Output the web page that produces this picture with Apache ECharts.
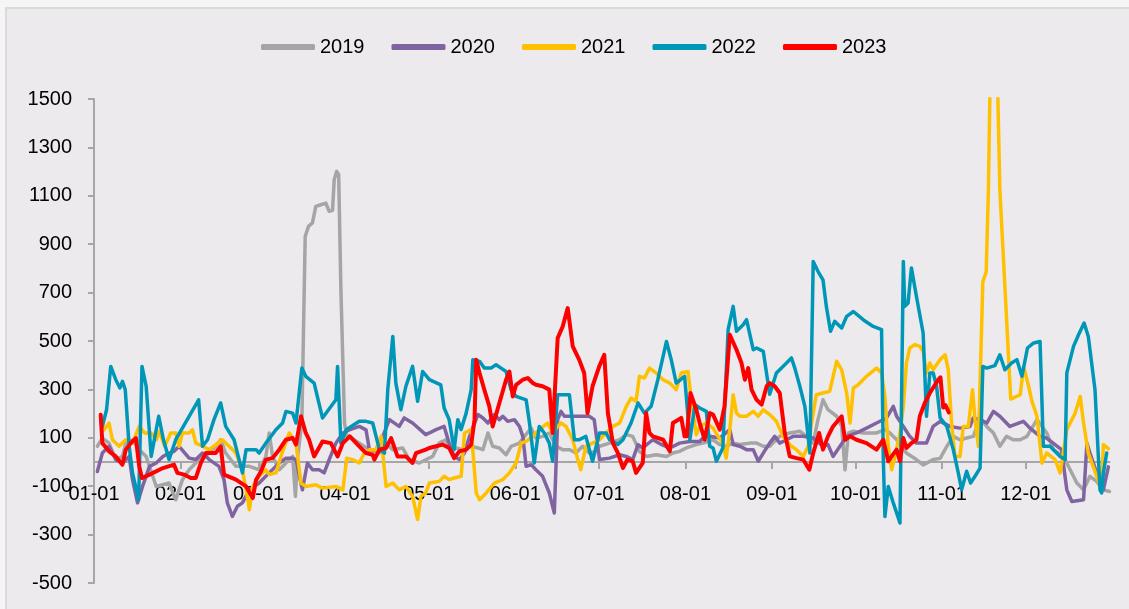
<!DOCTYPE html>
<html>
<head>
<meta charset="utf-8">
<script src="https://cdn.jsdelivr.net/npm/echarts@6/dist/echarts.min.js"></script>
<style>
html,body{margin:0;padding:0;background:#F5F5F5;}
#chart{width:1129px;height:609px;}
</style>
</head>
<body>
<div id="chart"></div>
<script>
// x = day of year (0 = 01-01), y = value
const monthStartDays = [0, 31, 59, 90, 120, 151, 181, 212, 243, 273, 304, 334];
const monthLabels = ['01-01','02-01','03-01','04-01','05-01','06-01','07-01','08-01','09-01','10-01','11-01','12-01'];
const yTickLabels = ['-500','-300','-100','100','300','500','700','900','1100','1300','1500'];
const seriesNames = ['2019','2020','2021','2022','2023'];
const seriesColors = ['#A5A5A5','#8064A2','#FFC000','#0096B8','#FF0000'];

const s2019 = [[1.2,65],[3.0,99],[5.4,78],[7.8,10],[10.2,23],[11.4,78],[13.8,92],[16.2,51],[18.7,23],[22.3,-101],[26.9,-87],[29.3,-156],[31.7,-73],[34.1,-32],[37.7,10],[41.3,37],[43.6,65],[45.4,92],[47.2,37],[50.9,-18],[55.7,-18],
[59.2,-32],[61.6,23],[62.8,120],[64.0,23],[66.4,-32],[68.8,-4],[70.0,10],[71.2,23],[72.2,-142],[73.0,23],[74.5,161],[75.7,932],[76.9,974],[78.3,988],[79.5,1056],[81.3,1063],[83.1,1070],[84.3,1036],[85.5,1040],[86.1,1167],[87.0,1201],[87.7,1187],[88.5,712],[89.8,161],[90.6,106],[91.5,106],[95.1,78],[98.7,51],[102.3,37],[104.7,78],[107.1,51],[110.6,58],[113.0,10],[116.6,-4],[121.4,23],
[123.7,78],[126.1,92],[127.3,58],[129.7,58],[132.1,51],[135.2,65],[137.6,58],[139.4,51],[141.2,120],[142.9,65],[145.3,58],[147.7,30],[149.5,65],[152.5,78],[154.3,106],[156.7,140],[158.4,99],[160.8,106],[163.2,120],[165.6,65],[168.0,51],[170.4,51],[172.8,37],[175.1,65],[177.5,37],[179.9,44],
[181.2,65],[184.8,78],[188.4,92],[190.8,113],[193.1,106],[195.5,44],[197.9,23],[201.5,30],[205.2,23],[207.5,37],[209.9,44],[212.3,58],[215.9,72],[218.3,78],[221.9,92],[224.3,72],[226.6,65],[229.1,78],[231.5,72],[235.1,78],[237.5,78],[239.9,65],
[242.2,65],[245.8,106],[249.4,120],[253.0,127],[255.4,106],[257.8,78],[259.5,175],[261.3,257],[263.1,216],[266.2,189],[268.0,147],[269.2,-32],[270.4,120],[272.2,127],[275.7,120],[280.5,120],[283.5,134],[285.3,120],[287.7,92],[291.2,37],[294.8,10],[297.2,-12],[300.8,10],
[303.3,15],[305.7,65],[308.0,106],[310.4,92],[312.8,99],[315.2,106],[317.6,182],[320.0,147],[322.4,120],[324.7,65],[327.1,106],[329.5,92],[332.0,92],[334.4,106],[338.0,175],[339.8,147],[341.5,120],[343.9,51],[347.5,23],[349.9,-32],[352.3,-87],[354.7,-115],[357.0,-59],[359.4,-80],[361.8,-115],[364.0,-122]];

const s2020 = [[1.2,-39],[3.0,37],[5.4,65],[7.8,10],[10.2,-4],[12.6,23],[13.8,-73],[15.6,-169],[17.4,-101],[19.9,-18],[22.3,-4],[24.7,23],[26.9,37],[28.7,44],[30.5,65],[34.1,16],[36.5,10],[38.9,37],[41.3,10],[44.8,-18],[46.6,-73],[47.8,-169],[49.6,-225],[51.4,-183],[53.2,-169],[55.7,-114],
[59.2,-87],[62.8,-45],[66.4,-4],[68.8,16],[71.2,16],[72.4,10],[74.7,-115],[76.5,-4],[78.3,-32],[80.7,-32],[82.5,-45],[84.3,10],[86.7,78],[89.2,120],[91.5,133],[95.1,147],[97.5,133],[98.7,51],[101.1,51],[103.5,106],[105.9,175],[109.4,147],[111.2,182],[114.2,161],[118.9,113],
[120.2,120],[122.6,134],[125.5,147],[127.3,78],[129.1,23],[131.0,10],[132.8,37],[134.6,106],[137.6,196],[139.4,182],[141.2,161],[143.5,196],[145.3,175],[146.5,189],[148.3,168],[150.7,175],[152.5,147],[153.7,106],[154.9,-18],[156.7,-11],[158.4,-32],[160.8,-59],[163.2,-128],[165.0,-211],[166.2,175],[167.4,209],[168.6,189],[170.4,189],[173.9,189],[177.5,189],[179.3,175],
[181.2,10],[184.8,16],[188.4,30],[190.8,23],[193.1,10],[195.0,72],[196.7,58],[200.3,92],[203.4,72],[206.4,58],[209.9,78],[213.6,85],[217.1,85],[218.9,106],[220.7,106],[224.3,99],[227.9,134],[229.1,72],[231.5,65],[233.9,51],[236.3,51],[238.1,3],[239.9,37],
[242.2,78],[244.0,106],[245.8,78],[248.2,92],[250.6,106],[254.2,106],[257.8,99],[261.3,65],[263.1,72],[264.9,23],[267.4,65],[269.8,106],[273.3,120],[276.9,140],[280.5,161],[284.1,182],[286.5,230],[287.7,189],[290.1,147],[292.4,106],[294.8,78],[298.4,78],[300.8,147],
[303.3,168],[306.8,147],[310.4,140],[314.0,147],[315.2,182],[317.6,175],[320.0,161],[322.4,209],[324.7,189],[328.3,147],[333.1,168],[335.5,140],[339.1,106],[341.4,99],[343.8,78],[346.8,51],[348.7,-115],[350.5,-163],[354.7,-156],[355.9,78],[357.0,37],[359.4,-45],[361.8,-115],[363.6,-20]];

const s2021 = [[3.6,133],[5.4,161],[6.6,92],[9.0,65],[11.4,92],[13.8,78],[16.2,147],[18.1,120],[20.5,120],[22.3,92],[23.5,127],[25.3,65],[27.5,120],[29.3,120],[30.5,65],[31.7,120],[34.1,120],[35.3,133],[36.5,78],[38.9,65],[41.3,51],[46.0,92],[48.4,65],[50.9,37],[53.2,-32],[54.5,-114],[55.7,-197],[56.9,-101],
[59.2,-59],[61.6,-32],[62.8,-52],[65.2,-45],[67.0,23],[70.0,120],[72.4,78],[74.2,-87],[75.9,-101],[79.5,-94],[81.9,-108],[86.7,-101],[89.2,-115],[90.6,16],[92.7,10],[95.1,-4],[96.9,37],[98.7,51],[101.1,51],[102.9,106],[104.7,-101],[107.1,-87],[109.4,-115],[111.8,-101],[114.2,-142],[116.0,-238],[117.2,-142],[118.9,-128],
[120.2,-87],[123.7,-80],[125.5,-59],[127.3,-73],[129.1,-66],[131.6,-59],[132.8,120],[135.2,134],[137.0,-128],[138.2,-156],[140.6,-128],[143.5,-87],[146.5,-73],[148.9,-45],[151.3,-4],[153.1,78],[154.9,85],[157.3,106],[159.6,134],[162.6,161],[164.4,120],[166.2,147],[167.4,161],[169.2,147],[171.6,92],[173.4,10],[174.5,-32],[176.3,65],[178.7,78],
[181.2,92],[183.6,120],[186.0,147],[188.4,161],[190.8,230],[192.5,264],[194.3,251],[195.5,354],[197.3,347],[199.1,388],[201.5,368],[204.0,340],[206.4,326],[208.7,299],[210.5,368],[212.9,374],[214.1,257],[215.9,113],[217.1,147],[219.5,161],[221.9,140],[223.7,106],[225.4,78],[226.6,16],[227.9,134],[229.1,278],[230.3,202],[231.5,189],[233.9,189],[236.3,209],[238.1,189],[239.9,216],
[242.2,196],[244.6,168],[247.0,106],[250.0,65],[251.8,51],[254.2,23],[256.0,65],[257.1,154],[258.9,278],[261.3,285],[263.7,292],[266.2,416],[268.0,381],[269.8,285],[271.0,161],[272.2,306],[273.9,319],[276.9,354],[280.5,388],[282.3,368],[283.5,271],[284.7,65],[285.9,-32],[287.1,23],[288.9,120],[290.1,230],[291.2,409],[292.4,471],[294.2,485],[296.0,478],[297.2,457],[298.4,368],[299.6,409],[300.8,381],[302.0,402],
[303.3,423],[305.1,443],[306.2,381],[307.4,161],[308.6,23],[310.4,23],[311.6,147],[313.4,147],[314.9,299],[315.8,175],[317.0,65],[318.6,745],[319.8,786],[320.6,1125],[322.3,2400],[324.7,1125],[328.6,260],[332.0,278],[333.2,395],[335.0,313],[336.2,251],[338.0,189],[339.8,-4],[341.5,37],[344.5,10],[346.3,-45],[348.7,133],[351.7,202],[353.5,271],[354.7,161],[356.4,37],[359.4,-59],[361.2,-115],[361.8,72],[363.6,55]];

const s2022 = [[3.0,147],[4.5,216],[6.0,395],[7.8,340],[9.3,306],[10.2,333],[11.2,299],[12.6,65],[13.8,-45],[16.0,-156],[17.2,395],[18.7,313],[20.5,23],[23.2,189],[24.9,92],[26.9,10],[29.3,92],[34.1,189],[37.5,257],[38.9,65],[40.7,92],[43.0,175],[45.4,244],[47.2,147],[50.2,92],[53.2,-45],[54.5,51],[58.1,51],
[59.2,37],[61.6,78],[65.2,133],[67.6,161],[68.8,209],[71.2,202],[72.4,161],[74.5,388],[75.9,354],[78.9,326],[81.9,182],[86.7,257],[87.3,395],[88.5,78],[90.4,133],[95.1,168],[97.5,168],[99.9,161],[102.3,51],[104.1,37],[105.3,299],[107.1,519],[108.2,326],[110.0,216],[111.8,313],[114.2,395],[116.0,251],[117.8,374],[120.2,340],
[124.3,319],[125.5,223],[127.3,175],[129.1,51],[130.4,175],[131.6,134],[133.4,202],[135.2,299],[135.8,423],[138.2,416],[139.9,388],[142.3,388],[144.1,402],[145.9,388],[147.7,374],[149.5,299],[151.3,271],[154.9,257],[156.1,161],[157.8,-4],[159.6,147],[161.4,120],[163.2,78],[164.4,3],[166.2,278],[170.4,278],[172.2,92],[173.9,92],[176.3,106],[178.7,3],
[181.2,120],[183.6,120],[184.8,92],[187.8,72],[189.6,92],[192.5,161],[195.0,244],[197.3,202],[199.7,230],[202.1,340],[205.2,498],[206.9,423],[208.7,326],[211.7,354],[213.6,92],[215.4,237],[217.1,223],[219.5,209],[220.7,65],[221.9,58],[223.1,3],[225.4,58],[227.3,547],[229.1,643],[230.3,540],[232.7,567],[233.9,588],[236.3,464],[237.5,471],[239.9,457],
[242.2,280],[244.6,368],[247.6,402],[250.0,430],[251.2,388],[253.0,313],[254.8,230],[256.6,37],[257.8,829],[259.5,788],[261.3,753],[262.5,643],[264.0,540],[265.5,581],[268.0,554],[269.8,602],[272.2,622],[275.7,588],[279.3,560],[282.3,547],[282.9,23],[283.5,-225],[284.7,-101],[286.5,-169],[288.9,-252],[290.1,829],[290.6,643],[291.8,657],[293.0,802],[294.8,684],[297.2,533],[298.4,189],[299.6,368],[300.8,368],[302.0,313],
[303.3,182],[305.7,147],[308.0,51],[309.8,-45],[311.0,-115],[312.8,-38],[314.2,-87],[315.8,-59],[317.6,-25],[318.6,395],[320.0,388],[322.9,398],[324.7,443],[326.5,381],[328.9,409],[330.8,423],[332.6,354],[334.6,471],[336.8,492],[339.1,498],[340.3,65],[342.7,65],[346.3,23],[348.1,10],[348.7,368],[351.1,478],[352.9,526],[354.9,574],[356.4,519],[358.8,299],[360.6,-115],[361.2,-128],[361.8,-45],[363.0,37]];

const s2023 = [[2.4,195],[3.0,78],[5.4,44],[7.8,23],[10.2,-11],[11.4,51],[13.2,78],[15.0,99],[16.2,-18],[17.2,-66],[19.9,-52],[24.7,-25],[28.7,-11],[29.9,-45],[32.3,-52],[34.7,-66],[36.5,-66],[38.3,-4],[40.1,37],[43.6,37],[45.4,65],[46.6,-52],[50.9,-73],[54.5,-101],[56.9,-149],[58.1,-73],
[59.8,-40],[61.6,10],[64.0,16],[66.4,51],[68.8,92],[71.2,99],[72.4,72],[74.2,189],[75.9,120],[77.1,92],[78.9,23],[81.9,85],[84.9,78],[87.3,23],[89.2,78],[91.7,106],[95.1,65],[97.5,37],[99.9,30],[100.5,10],[102.3,51],[104.7,58],[106.5,99],[108.8,23],[111.8,23],[114.2,-4],[115.4,37],[118.9,51],[120.2,58],
[122.6,65],[124.9,72],[127.3,58],[129.1,16],[131.0,44],[133.4,51],[135.2,72],[136.4,175],[137.0,423],[138.2,368],[139.9,299],[141.7,230],[142.9,147],[145.3,244],[147.7,340],[148.9,374],[150.1,271],[151.3,319],[153.7,340],[155.5,347],[157.3,326],[158.4,319],[160.8,313],[163.2,299],[164.4,120],[166.2,512],[168.0,560],[169.8,636],[171.6,478],[173.9,423],[175.7,368],[176.9,202],[178.7,313],[181.1,395],[182.9,443],
[184.2,202],[186.0,78],[187.8,37],[189.6,-25],[191.2,10],[193.1,3],[194.3,-45],[196.7,-4],[197.9,202],[199.1,120],[200.3,106],[204.0,92],[206.4,44],[207.5,161],[210.5,182],[211.7,106],[212.5,106],[213.8,285],[215.9,216],[217.1,161],[218.9,92],[220.7,202],[221.9,196],[224.3,134],[226.0,230],[227.9,526],[230.3,464],[232.1,409],[233.3,340],[234.5,388],[235.7,299],[237.5,257],[239.3,237],[241.1,313],
[242.2,326],[244.0,313],[245.8,285],[247.6,120],[249.4,23],[251.8,16],[254.2,10],[256.4,-32],[257.8,37],[259.9,120],[261.3,51],[263.1,106],[264.9,147],[268.0,189],[269.2,92],[271.0,106],[273.3,92],[276.9,78],[280.5,51],[282.9,92],[284.7,3],[285.9,23],[287.7,51],[288.9,3],[290.1,99],[291.2,58],[293.0,78],[294.8,92],[296.0,189],[297.8,244],[299.6,285],[302.6,340],[303.4,350],[304.4,225],[305.2,235],[306.4,205]];

const seriesData = [s2019, s2020, s2021, s2022, s2023];
const FONT = 'Liberation Sans';
const Y_MIN = -500, Y_MAX = 1500;
const GRID = {left: 94, right: 19.5, top: 99, bottom: 26};
const gridH = 609 - GRID.top - GRID.bottom;
// move the category axis up to the zero line
const zeroOffset = -gridH * (0 - Y_MIN) / (Y_MAX - Y_MIN);

const chart = echarts.init(document.getElementById('chart'), null, {renderer: 'canvas'});
chart.setOption({
  backgroundColor: '#F5F5F5',
  animation: false,
  graphic: [{
    type: 'rect', z: -10, silent: true,
    shape: {x: 6, y: 8, width: 1140, height: 620},
    style: {fill: '#ECEAEC', stroke: '#DADADA', lineWidth: 2}
  }],
  legend: {
    data: seriesNames,
    left: 261, top: 37, padding: 0,
    icon: 'roundRect',
    itemWidth: 54, itemHeight: 6, itemGap: 27,
    textStyle: {fontFamily: FONT, fontSize: 20, color: '#000'}
  },
  grid: Object.assign({containLabel: false, outerBoundsMode: 'none'}, GRID),
  xAxis: {
    type: 'value', min: 0, max: 364,
    position: 'bottom', offset: zeroOffset,
    axisLine: {onZero: false, lineStyle: {color: '#A6A6A6', width: 2}},
    axisTick: {show: true, customValues: monthStartDays, length: 7, lineStyle: {color: '#A6A6A6', width: 2}},
    axisLabel: {
      customValues: monthStartDays, showMinLabel: true, margin: 22,
      fontFamily: FONT, fontSize: 20, color: '#000',
      formatter: v => monthLabels[monthStartDays.indexOf(Math.round(v))] || ''
    },
    splitLine: {show: false}
  },
  yAxis: {
    type: 'value', min: Y_MIN, max: Y_MAX, interval: 200,
    axisLine: {show: true, lineStyle: {color: '#A6A6A6', width: 2}},
    axisTick: {show: true, length: 6, lineStyle: {color: '#A6A6A6', width: 2}},
    axisLabel: {
      margin: 22, fontFamily: FONT, fontSize: 20, color: '#000',
      formatter: v => yTickLabels.find(t => Number(t) === v) || String(v)
    },
    splitLine: {show: false}
  },
  series: seriesNames.map((n, i) => ({
    name: n, type: 'line', data: seriesData[i],
    symbol: 'none', showSymbol: false, clip: true,
    itemStyle: {color: seriesColors[i]},
    lineStyle: {color: seriesColors[i], width: i === 4 ? 4 : 3.5, join: 'round', cap: 'round'},
    z: 2 + i
  }))
});
</script>
</body>
</html>
